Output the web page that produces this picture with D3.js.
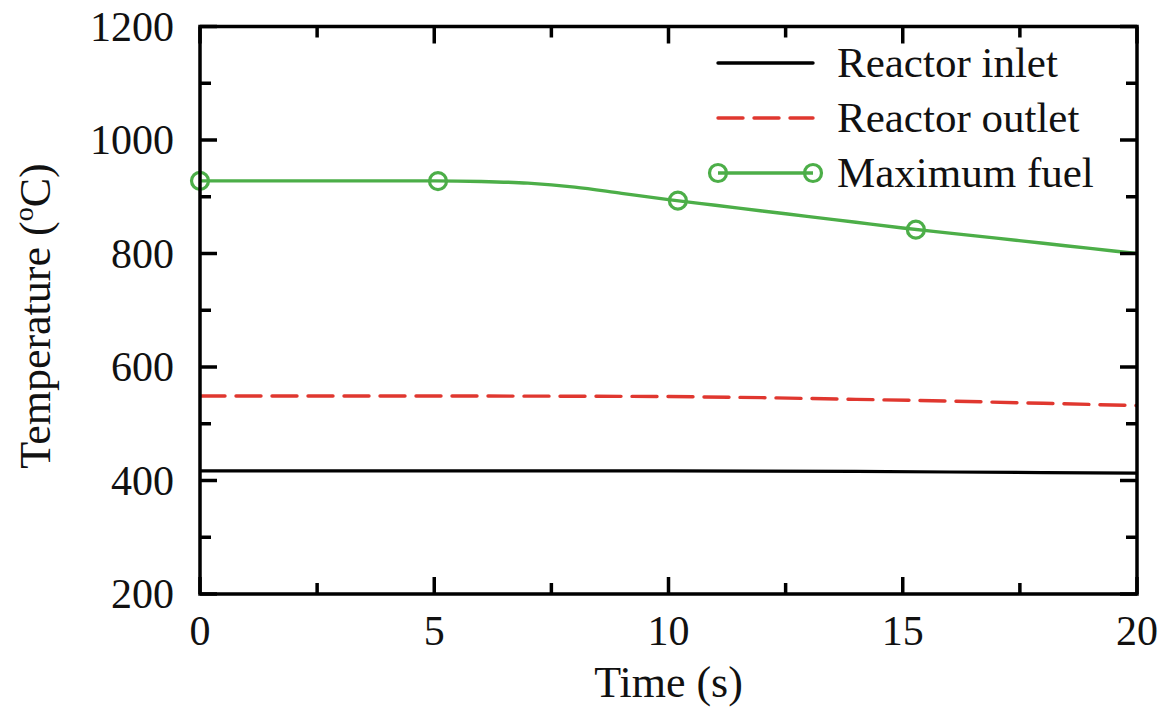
<!DOCTYPE html>
<html><head><meta charset="utf-8">
<script src="https://cdn.jsdelivr.net/npm/d3@7"></script>
<style>body{margin:0;background:#fff}svg{display:block}text{font-family:"Liberation Serif","Times New Roman",serif;fill:#111}</style>
</head><body><svg id="c" width="1162" height="709"></svg>
<script>
const seriesNames = ["Reactor inlet", "Reactor outlet", "Maximum fuel"];
const inletT  = [0, 5, 10, 12, 14, 16, 18, 20];
const inletV  = [417, 417, 417, 416.5, 416, 415, 414, 413];
const outletT = [0, 5, 8, 10, 12, 14, 16, 18, 20];
const outletV = [549, 549, 548.5, 548, 546, 543, 540, 536, 532];
const fuelT   = [0, 5, 6, 7, 8, 9, 10, 11, 12, 13, 14, 15, 16, 17, 18, 19, 20];
const fuelV   = [928, 928, 927, 924, 917, 906, 895, 885, 875, 865, 855, 845, 836, 827, 818, 809, 800];
const markerT = [0, 5.08, 10.2, 15.28];
const markerV = [928, 927.5, 893, 842];
const xTicks = [0, 5, 10, 15, 20];
const yTicks = [200, 400, 600, 800, 1000, 1200];

const svg = d3.select("#c");
const L = 200, R = 1137, T = 26.5, B = 594;
const x = d3.scaleLinear().domain([0, 20]).range([L, R]);
const y = d3.scaleLinear().domain([200, 1200]).range([B, T]);
const green = "#4cae48", red = "#e0372f", black = "#000";

svg.append("defs").append("clipPath").attr("id","pc")
  .append("rect").attr("x", L).attr("y", T).attr("width", R - L).attr("height", B - T);

const line = d3.line().x(d => x(d[0])).y(d => y(d[1]));
const g = svg.append("g").attr("clip-path", "url(#pc)");
g.append("path").datum(inletT.map((t,i)=>[t,inletV[i]])).attr("d", line)
  .attr("fill","none").attr("stroke",black).attr("stroke-width",3.2);
g.append("path").datum(outletT.map((t,i)=>[t,outletV[i]])).attr("d", line)
  .attr("fill","none").attr("stroke",red).attr("stroke-width",3.4)
  .attr("stroke-dasharray","25,11").attr("stroke-linecap","round");
g.append("path").datum(fuelT.map((t,i)=>[t,fuelV[i]])).attr("d", d3.line().curve(d3.curveMonotoneX).x(d=>x(d[0])).y(d=>y(d[1])))
  .attr("fill","none").attr("stroke",green).attr("stroke-width",3.4);
svg.append("g").selectAll("circle").data(markerT.map((t,i)=>[t,markerV[i]])).join("circle")
  .attr("cx", d=>x(d[0])).attr("cy", d=>y(d[1])).attr("r", 8.5)
  .attr("fill","none").attr("stroke",green).attr("stroke-width",3.2);

// axes with inward ticks on all four sides
const ax = svg.append("g");
const majorLen = 17, minorLen = 11, aw = 3.5;
const xMinor = d3.range(2.5, 20, 5);
const yMinor = d3.range(300, 1200, 200);
function addTicks(scale, vals, len, side) {
  vals.forEach(v => {
    const p = scale(v);
    if (side === "bottom") ax.append("line").attr("x1",p).attr("x2",p).attr("y1",B).attr("y2",B-len);
    if (side === "top") ax.append("line").attr("x1",p).attr("x2",p).attr("y1",T).attr("y2",T+len);
    if (side === "left") ax.append("line").attr("x1",L).attr("x2",L+len).attr("y1",p).attr("y2",p);
    if (side === "right") ax.append("line").attr("x1",R).attr("x2",R-len).attr("y1",p).attr("y2",p);
  });
}
addTicks(x, xTicks, majorLen, "bottom"); addTicks(x, xTicks, majorLen, "top");
addTicks(x, xMinor, minorLen, "bottom"); addTicks(x, xMinor, minorLen, "top");
addTicks(y, yTicks, majorLen, "left"); addTicks(y, yTicks, majorLen, "right");
addTicks(y, yMinor, minorLen, "left"); addTicks(y, yMinor, minorLen, "right");
ax.append("rect").attr("x",L).attr("y",T).attr("width",R-L).attr("height",B-T).attr("fill","none");
ax.selectAll("line,rect").attr("stroke",black).attr("stroke-width",aw);

// tick labels
svg.append("g").selectAll("text").data(xTicks).join("text")
  .attr("x", d=>x(d)).attr("y", 645).attr("text-anchor","middle").attr("font-size",42).text(d=>d);
svg.append("g").selectAll("text").data(yTicks).join("text")
  .attr("x", 174).attr("y", d=>y(d)+14).attr("text-anchor","end").attr("font-size",42).text(d=>d);

// axis titles
svg.append("text").attr("x",(L+R)/2).attr("y",697).attr("text-anchor","middle").attr("font-size",44).text("Time (s)");
const yl = svg.append("text").attr("transform","translate(50,316) rotate(-90)").attr("text-anchor","middle").attr("font-size",44);
yl.append("tspan").text("Temperature (");
yl.append("tspan").attr("dy",-17).attr("font-size",28).text("o");
yl.append("tspan").attr("dy",17).text("C)");

// legend
const lg = svg.append("g");
const rows = [63, 118, 173];
const lx1 = 718, lx2 = 813;
lg.append("line").attr("x1",lx1).attr("x2",lx2).attr("y1",rows[0]).attr("y2",rows[0])
  .attr("stroke",black).attr("stroke-width",3.4).attr("stroke-linecap","round");
lg.append("line").attr("x1",lx1).attr("x2",lx2).attr("y1",rows[1]).attr("y2",rows[1])
  .attr("stroke",red).attr("stroke-width",3.4).attr("stroke-linecap","round").attr("stroke-dasharray","25,11");
lg.append("line").attr("x1",lx1).attr("x2",lx2).attr("y1",rows[2]).attr("y2",rows[2])
  .attr("stroke",green).attr("stroke-width",3.4);
[lx1, lx2].forEach(cx => lg.append("circle").attr("cx",cx).attr("cy",rows[2]).attr("r",8.5)
  .attr("fill","none").attr("stroke",green).attr("stroke-width",3.2));
seriesNames.forEach((n,i) => lg.append("text").attr("x",837).attr("y",rows[i]+14).attr("font-size",43).text(n));
</script></body></html>
